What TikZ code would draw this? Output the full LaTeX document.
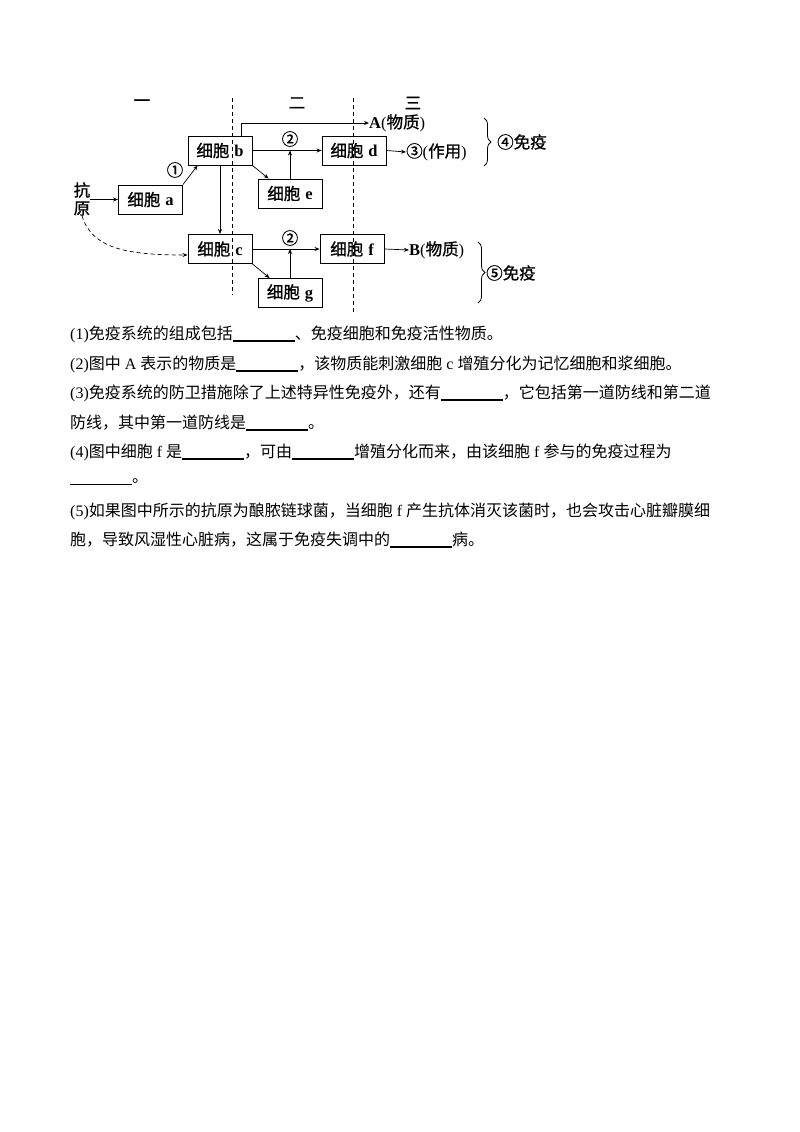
\documentclass[tikz,border=0pt]{standalone}
\usepackage{fontspec}
\setmainfont{Noto Sans CJK SC}
\newfontfamily\cjkb[FakeBold=1]{Noto Sans CJK SC}
\newfontfamily\lat{Liberation Serif}
\usetikzlibrary{arrows.meta,decorations.pathreplacing,calc}
\newcommand\blank{\rule[-3pt]{62pt}{1.8pt}}
\newcommand\lt[1]{{\lat #1}}
\newcommand\cl[1]{{\lat\bfseries #1}}
\newcommand\xb[1]{细胞\hspace{5pt}\cl{#1}}
\begin{document}
\begin{tikzpicture}[x=1pt,y=-1pt,
  cell/.style={draw,line width=0.9pt,minimum width=64pt,minimum height=29pt,inner sep=0pt,font=\cjkb\fontsize{16.5}{16.5}\selectfont},
  arr/.style={-{Stealth[length=5pt,width=4pt]},line width=0.7pt},
  lbl/.style={inner sep=0pt,font=\cjkb\fontsize{16.5}{16.5}\selectfont},
  body/.style={anchor=west,inner sep=0pt,font=\fontsize{16}{16}\selectfont},
  sep/.style={dashed,dash pattern=on 4pt off 3pt,line width=0.7pt},
  br/.style={decorate,decoration={brace,amplitude=7pt},line width=0.8pt}]
\useasboundingbox[fill=white] (0,0) rectangle (800,1132);
% headers
\node[lbl] (h1) at (142,103) {一};
\node[lbl] (h2) at (297,103) {二};
\node[lbl] (h3) at (413,103) {三};
% separators
\draw[sep] (232,98) -- (232,295);
\draw[sep] (353,98) -- (353,314);
% cells
\node[cell] (a) at (150.5,199.5) {\xb{a}};
\node[cell] (b) at (220,150.5) {\xb{b}};
\node[cell] (c) at (220,249) {\xb{c}};
\node[cell] (e) at (290,193.5) {\xb{e}};
\node[cell] (g) at (290,293) {\xb{g}};
\node[cell] (d) at (354,150.5) {\xb{d}};
\node[cell] (f) at (352,249) {\xb{f}};
\node[lbl,align=center,font=\cjkb\fontsize{16.5}{18}\selectfont] (ky) at (82,199) {抗\\原};
% labels
\node[lbl,anchor=west] (A) at (369,123) {\cl{A}\lt{(}物质\lt{)}};
\node[lbl,anchor=west] (z3) at (406,152) {③\lt{(}作用\lt{)}};
\node[lbl,anchor=west] (B) at (409,250) {\cl{B}\lt{(}物质\lt{)}};
\node[lbl] (n1) at (175,170) {①};
\node[lbl] (n2a) at (290,139) {②};
\node[lbl] (n2b) at (290,238) {②};
\node[lbl,anchor=west] (m4) at (497,142) {④免疫};
\node[lbl,anchor=west] (m5) at (486,273) {⑤免疫};
% arrows
\draw[arr] (ky.east |- a.west) -- (a.west);
\draw[arr] (a.north east) -- ($(b.south west)+(10pt,0)$);
\draw[arr] (b.east) -- (d.west);
\draw[arr] (b.south) -- (c.north);
\draw[arr] (b.south east) -- ($(e.north west)+(11pt,0)$);
\draw[arr] (e.north) -- (e.north |- b.east);
\draw[arr] ($(b.north east)+(-11pt,0)$) |- (A.west);
\draw[arr] (d.east) -- (z3.west);
\draw[arr] (c.east) -- (f.west);
\draw[arr] (c.south east) -- ($(g.north west)+(12pt,0)$);
\draw[arr] (g.north) -- (g.north |- c.east);
\draw[arr] (f.east) -- (B.west);
\draw[arr,dashed,dash pattern=on 4pt off 3pt] (ky.south) .. controls (92,248) and (125,255) .. ($(c.west)+(0,-6pt)$);
% braces
\draw[br] (484,118) -- (484,166);
\draw[br] (478,242) -- (478,303);
% question text
\node[body] (q1) at (70,334) {\lt{(1)}免疫系统的组成包括\blank{}、免疫细胞和免疫活性物质。};
\node[body] (q2) at (70,364) {\lt{(2)}图中\lt{ A }表示的物质是\blank{}，该物质能刺激细胞\lt{ c }增殖分化为记忆细胞和浆细胞。};
\node[body] (q3) at (70,393) {\lt{(3)}免疫系统的防卫措施除了上述特异性免疫外，还有\blank{}，它包括第一道防线和第二道};
\node[body] (q3b) at (70,423) {防线，其中第一道防线是\blank{}。};
\node[body] (q4) at (70,452) {\lt{(4)}图中细胞\lt{ f }是\blank{}，可由\blank{}增殖分化而来，由该细胞\lt{ f }参与的免疫过程为};
\node[body] (q4b) at (70,482) {\blank{}。};
\node[body] (q5) at (70,511) {\lt{(5)}如果图中所示的抗原为酿脓链球菌，当细胞\lt{ f }产生抗体消灭该菌时，也会攻击心脏瓣膜细};
\node[body] (q5b) at (70,540) {胞，导致风湿性心脏病，这属于免疫失调中的\blank{}病。};
\end{tikzpicture}
\end{document}
